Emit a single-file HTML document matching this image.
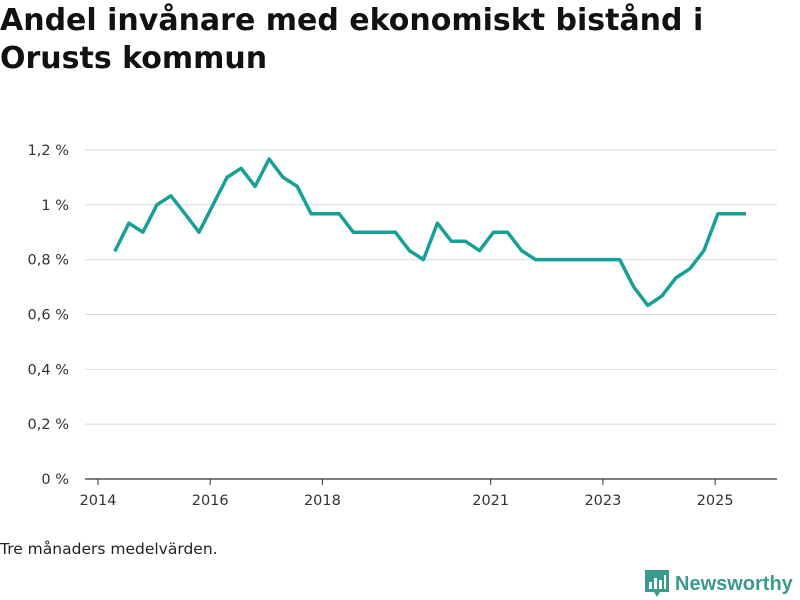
<!DOCTYPE html>
<html><head><meta charset="utf-8">
<style>
body{margin:0;width:800px;height:600px;background:#fff;font-family:"DejaVu Sans","Liberation Sans",sans-serif;overflow:hidden;position:relative}
h1{position:absolute;left:0;top:2px;margin:0;font-size:30px;line-height:38px;font-weight:bold;color:#111;letter-spacing:0}
.note{position:absolute;left:0;top:540px;font-size:15.5px;color:#222}
.logo{position:absolute;left:645px;top:570px;display:flex;align-items:center}
.logo span{font-size:20px;font-weight:bold;color:#3a9a8f;margin-left:6px;font-family:"Liberation Sans",sans-serif}
</style></head><body>
<h1>Andel invånare med ekonomiskt bistånd i<br>Orusts kommun</h1>
<svg id="chart" width="800" height="600" style="position:absolute;left:0;top:0"></svg>
<div class="note">Tre månaders medelvärden.</div>
<div class="logo">
<svg width="24" height="28" viewBox="0 0 24 28"><path d="M0 0H24V22H15L12 27L9 22H0Z" fill="#3a9a8f"/><rect x="4" y="12" width="3" height="7" fill="#fff"/><rect x="9" y="8" width="3" height="11" fill="#fff"/><rect x="14" y="10" width="3" height="9" fill="#fff"/><rect x="19" y="5" width="2" height="14" fill="#fff"/></svg>
<span>Newsworthy</span></div>
<script>
const values=[0.83,0.933,0.9,1.0,1.033,0.967,0.9,1.0,1.1,1.133,1.067,1.167,1.1,1.067,0.967,0.967,0.967,0.9,0.9,0.9,0.9,0.833,0.8,0.933,0.867,0.867,0.833,0.9,0.9,0.833,0.8,0.8,0.8,0.8,0.8,0.8,0.8,0.7,0.633,0.667,0.733,0.767,0.833,0.967,0.967,0.967];
const startYear=2014.3;
const yTicks=[0,0.2,0.4,0.6,0.8,1.0,1.2];
const yTickLabels=["0 %","0,2 %","0,4 %","0,6 %","0,8 %","1 %","1,2 %"];
const xTicks=[2014,2016,2018,2021,2023,2025];
const NS="http://www.w3.org/2000/svg";
const svg=document.getElementById('chart');
const x=yr=>98+(yr-2014)*56.1;
const y=v=>479-v*274.2;
function mk(t,a){const e=document.createElementNS(NS,t);for(const k in a)e.setAttribute(k,a[k]);svg.appendChild(e);return e;}
yTicks.forEach((v,i)=>{
 const l=mk('line',{x1:85,x2:777,y1:y(v),y2:y(v),stroke:v===0?'#333':'#d9d9d9','stroke-width':v===0?1.2:1});
 
 
 const t=mk('text',{x:69,y:y(v)+5,'text-anchor':'end','font-size':14.5,fill:'#333'});
 t.textContent=yTickLabels[i];
 
 
});
xTicks.forEach(yr=>{
 const l=mk('line',{x1:x(yr),x2:x(yr),y1:479,y2:485,stroke:'#333'});
 
 
 const t=mk('text',{x:x(yr),y:505,'text-anchor':'middle','font-size':14.5,fill:'#333'});
 t.textContent=yr;
 
 
});
const pts=values.map((v,i)=>x(startYear+i*0.25).toFixed(1)+','+y(v).toFixed(1)).join(' ');
const p=mk('polyline',{points:pts,fill:'none',stroke:'#17a096','stroke-width':3.5,'stroke-linejoin':'round'});


</script>
</body></html>
